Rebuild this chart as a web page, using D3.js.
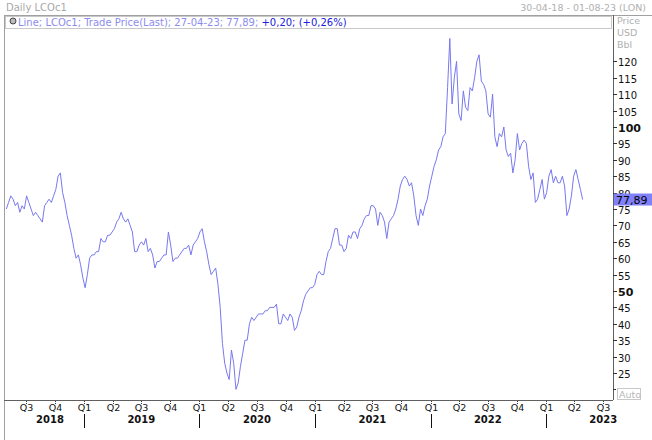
<!DOCTYPE html>
<html><head><meta charset="utf-8">
<script src="https://cdn.jsdelivr.net/npm/d3@7"></script>
<style>body{margin:0;background:#fff}svg{display:block;font-family:Tahoma,"DejaVu Sans",sans-serif}</style>
</head><body><svg id="c" width="652" height="440"></svg>
<script>
const startDate = "2018-04-30", endDate = "2023-04-27";
const prices = [
75,77,79,78,76, 77,74,76,75,79, 77,75,73,74, 73,72,71,76,77, 78,77,79,81, 85,86,80,77, 73,70,67,63, 60,61,58,54,51,
55,60,61,61, 62,62,66,65, 65,67,67,68, 69,71,72,74,72, 71,72,70,68, 62,62,64,65, 64,66,62,63, 61,57,59,59,60, 61,61,68,64, 59,60,60,61, 62,63,63,64, 61,64,65,66,68,
69,65,62,58, 55,56,57,52, 45,34,28,25,23, 32,28,20,22, 27,31,35,35, 40,42,41,42, 43,43,43,44, 44,45,45,45,46, 40,40,43,42, 41,43,42,38, 39,42,44,47, 49,50,51,51,52,
55,56,55,55, 59,62,63,66, 69,69,64,64, 62,63,67,66, 68,68,66,69,70, 72,73,73,76, 76,75,70,74, 73,71,66,71, 72,73,75,78, 82,84,85,84, 82,83,79,73, 70,75,73,76,78,
82,85,88,90, 93,94,97,98, 112,127,107,115,120, 104,102,111,106, 105,112,111,115, 120,122,114,113, 111,104,103,110, 97,94,98,97,100, 93,91,92,86, 90,98,93,95, 96,95,88,84, 86,77,78,81,84,
78,80,85,87, 83,85,83,83, 85,82,73,75,79, 85,87,84,81,77.89];
const yTicks = d3.range(25,121,5);
const boldTicks = [50,100];
const quarterLabels = ["Q1","Q2","Q3","Q4"];
const years = [2018,2019,2020,2021,2022,2023];

const svg = d3.select("#c");
const L=6,R=613,T=31,B=400;
const x = d3.scaleTime().domain([new Date(2018,3,29), new Date(2023,7,1)]).range([L,R]);
const y = d3.scaleLinear().domain([50,100]).range([291,127]);
const s=new Date(startDate), e=new Date(endDate), step=(e-s)/(prices.length-1);
const data = prices.map((v,i)=>({d:new Date(+s+i*step),v}));

// frames
svg.append("text").attr("x",6).attr("y",11).attr("font-size",10).attr("fill","#a8a8a8").text("Daily LCOc1");
svg.append("text").attr("x",646).attr("y",11).attr("text-anchor","end").attr("font-size",9.5).attr("fill","#b0b0b0").text("30-04-18 - 01-08-23 (LON)");
svg.append("line").attr("x1",4).attr("x2",652).attr("y1",15.5).attr("y2",15.5).attr("stroke","#a0a0a0");
svg.append("line").attr("x1",4.5).attr("x2",4.5).attr("y1",15).attr("y2",440).attr("stroke","#a0a0a0");
svg.append("line").attr("x1",R+0.5).attr("x2",R+0.5).attr("y1",15).attr("y2",B).attr("stroke","#606060");
svg.append("line").attr("x1",4).attr("x2",R).attr("y1",B+0.5).attr("y2",B+0.5).attr("stroke","#606060");
// legend
svg.append("rect").attr("x",5.5).attr("y",16.5).attr("width",606).attr("height",12).attr("fill","none").attr("stroke","#c8c8c8");
svg.append("circle").attr("cx",13).attr("cy",21).attr("r",3).attr("fill","#bbb").attr("stroke","#444");
const lg=svg.append("text").attr("x",18).attr("y",26).attr("font-size",10);
lg.append("tspan").attr("fill","#8c8cf0").text("Line; LCOc1; Trade Price(Last); 27-04-23; 77,89; ");
lg.append("tspan").attr("fill","#2020e0").text("+0,20; (+0,26%)");
svg.append("text").attr("x",617).attr("y",24).attr("font-size",9.5).attr("fill","#b0b0b0").text("Price");
svg.append("text").attr("x",617).attr("y",36).attr("font-size",9.5).attr("fill","#b0b0b0").text("USD");
svg.append("text").attr("x",617).attr("y",48).attr("font-size",9.5).attr("fill","#b0b0b0").text("Bbl");

// line
svg.append("path").datum(data).attr("fill","none").attr("stroke","#7878f0").attr("stroke-width",1)
 .attr("d",d3.line().x(d=>x(d.d)).y(d=>y(d.v)));

// y axis
yTicks.forEach(t=>{
  const yy=Math.round(y(t))+0.5;
  svg.append("line").attr("x1",R).attr("x2",R+4).attr("y1",yy).attr("y2",yy).attr("stroke","#333");
  const b=boldTicks.includes(t);
  svg.append("text").attr("x",R+5).attr("y",yy+4).attr("font-size",b?11:10).attr("font-weight",b?"bold":"normal").attr("fill","#111").text(t);
});
[20].forEach(t=>{const yy=Math.round(y(t))+0.5;svg.append("line").attr("x1",R).attr("x2",R+3).attr("y1",yy).attr("y2",yy).attr("stroke","#333");});
const last=prices[prices.length-1], ly=y(last);
svg.append("rect").attr("x",R+1).attr("y",ly-6).attr("width",38).attr("height",12).attr("fill","#8080f8");
svg.append("text").attr("x",R+3).attr("y",ly+4.5).attr("font-size",11).attr("fill","#000").text(d3.format(".2f")(last).replace(".",","));
svg.append("rect").attr("x",617.5).attr("y",388.5).attr("width",23).attr("height",11).attr("fill","#fff").attr("stroke","#c8c8c8");
svg.append("text").attr("x",619).attr("y",397.5).attr("font-size",9.5).attr("fill","#b8b8b8").text("Auto");

// x axis
const qs = d3.timeMonth.every(3).range(new Date(2018,6,1), new Date(2023,7,2));
qs.forEach(q=>{
  const xx=Math.round(x(q))+0.5, qi=q.getMonth()/3;
  svg.append("line").attr("x1",xx).attr("x2",xx).attr("y1",B+1).attr("y2",B+4).attr("stroke","#333").attr("stroke-dasharray","1,1");
  svg.append("text").attr("x",xx).attr("y",411).attr("text-anchor","middle").attr("font-size",9.5).attr("fill","#111").text(quarterLabels[qi]);
  if(qi===0) svg.append("line").attr("x1",xx).attr("x2",xx).attr("y1",414).attr("y2",428).attr("stroke","#111");
});
years.forEach(yr=>{
  const xx = yr===2018 ? x(new Date(2018,8,15)) : x(new Date(yr,6,1));
  svg.append("text").attr("x",xx).attr("y",423).attr("text-anchor","middle").attr("font-size",10).attr("font-weight","bold").attr("fill","#111").text(yr);
});
</script></body></html>
